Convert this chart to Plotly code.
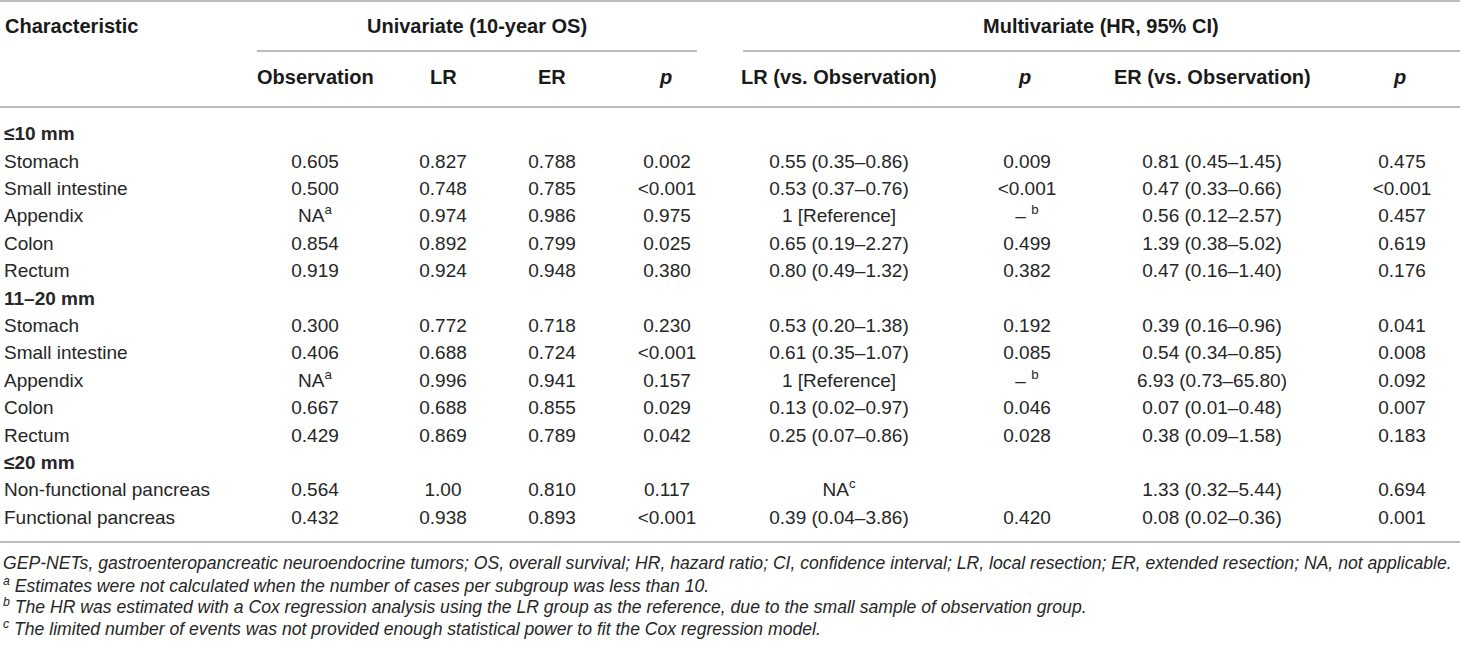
import plotly.graph_objects as go

# table content, row by row (group rows have empty value cells)
characteristic = ["<b>≤10 mm</b>", "Stomach", "Small intestine", "Appendix", "Colon", "Rectum",
                  "<b>11–20 mm</b>", "Stomach", "Small intestine", "Appendix", "Colon", "Rectum",
                  "<b>≤20 mm</b>", "Non-functional pancreas", "Functional pancreas"]
observation = ["", "0.605", "0.500", "NA<sup>a</sup>", "0.854", "0.919",
               "", "0.300", "0.406", "NA<sup>a</sup>", "0.667", "0.429",
               "", "0.564", "0.432"]
lr = ["", "0.827", "0.748", "0.974", "0.892", "0.924",
      "", "0.772", "0.688", "0.996", "0.688", "0.869",
      "", "1.00", "0.938"]
er = ["", "0.788", "0.785", "0.986", "0.799", "0.948",
      "", "0.718", "0.724", "0.941", "0.855", "0.789",
      "", "0.810", "0.893"]
p_uni = ["", "0.002", "<0.001", "0.975", "0.025", "0.380",
         "", "0.230", "<0.001", "0.157", "0.029", "0.042",
         "", "0.117", "<0.001"]
lr_hr = ["", "0.55 (0.35–0.86)", "0.53 (0.37–0.76)", "1 [Reference]", "0.65 (0.19–2.27)", "0.80 (0.49–1.32)",
         "", "0.53 (0.20–1.38)", "0.61 (0.35–1.07)", "1 [Reference]", "0.13 (0.02–0.97)", "0.25 (0.07–0.86)",
         "", "NA<sup>c</sup>", "0.39 (0.04–3.86)"]
p_lr = ["", "0.009", "<0.001", "– <sup>b</sup>", "0.499", "0.382",
        "", "0.192", "0.085", "– <sup>b</sup>", "0.046", "0.028",
        "", "", "0.420"]
er_hr = ["", "0.81 (0.45–1.45)", "0.47 (0.33–0.66)", "0.56 (0.12–2.57)", "1.39 (0.38–5.02)", "0.47 (0.16–1.40)",
         "", "0.39 (0.16–0.96)", "0.54 (0.34–0.85)", "6.93 (0.73–65.80)", "0.07 (0.01–0.48)", "0.38 (0.09–1.58)",
         "", "1.33 (0.32–5.44)", "0.08 (0.02–0.36)"]
p_er = ["", "0.475", "<0.001", "0.457", "0.619", "0.176",
        "", "0.041", "0.008", "0.092", "0.007", "0.183",
        "", "0.694", "0.001"]

col_headers = ["Observation", "LR", "ER", "<i>p</i>",
               "LR (vs. Observation)", "<i>p</i>", "ER (vs. Observation)", "<i>p</i>"]
footnotes = [
    "GEP-NETs, gastroenteropancreatic neuroendocrine tumors; OS, overall survival; HR, hazard ratio; "
    "CI, confidence interval; LR, local resection; ER, extended resection; NA, not applicable.",
    "<sup>a</sup> Estimates were not calculated when the number of cases per subgroup was less than 10.",
    "<sup>b</sup> The HR was estimated with a Cox regression analysis using the LR group as the reference, "
    "due to the small sample of observation group.",
    "<sup>c</sup> The limited number of events was not provided enough statistical power to fit the Cox regression model.",
]

W, H = 1460, 650
FONT = "Liberation Sans"
TXT = "#262626"
RULE = "#a6a6a6"
row0, row_h = 135.5, 27.4        # pixel centre of first body row, row pitch
col_x = [315, 443, 552, 667, 839, 1027, 1212, 1402]
head_x = [315, 443, 552, 665, 839, 1024, 1212, 1399]

rows = list(range(len(characteristic)))
fig = go.Figure()
fig.add_trace(go.Scatter(x=[4] * len(rows), y=rows, text=characteristic, mode="text",
                         textposition="middle right", hoverinfo="skip",
                         textfont=dict(family=FONT, size=19, color=TXT)))
for cx, vals in zip(col_x, [observation, lr, er, p_uni, lr_hr, p_lr, er_hr, p_er]):
    fig.add_trace(go.Scatter(x=[cx] * len(rows), y=rows, text=vals, mode="text",
                             textposition="middle center", hoverinfo="skip",
                             textfont=dict(family=FONT, size=19, color=TXT)))

ann = []
hfont = dict(family=FONT, size=20, color="#1a1a1a")


def px_ann(x, y, text, xanchor="center", font=hfont):
    ann.append(dict(x=x / W, y=1 - y / H, xref="paper", yref="paper", text=text,
                    showarrow=False, xanchor=xanchor, yanchor="middle", font=font))


px_ann(3, 26, "<b>Characteristic</b>", "left")
px_ann(477, 26, "<b>Univariate (10-year OS)</b>")
px_ann(1101, 26, "<b>Multivariate (HR, 95% CI)</b>")
for hx, h in zip(head_x, col_headers):
    px_ann(hx, 77, "<b>" + h + "</b>")

ffont = dict(family=FONT, size=17.6, color="#262626")
for i, f in enumerate(footnotes):
    px_ann(1, 563 + 21.7 * i, "<i>" + f + "</i>", "left", ffont)

shapes = []


def rule(x0, x1, y):
    shapes.append(dict(type="line", xref="paper", yref="paper", x0=x0 / W, x1=x1 / W,
                       y0=1 - y / H, y1=1 - y / H, line=dict(color=RULE, width=1.6)))


rule(0, W, 1)
rule(257, 697, 51)
rule(743, W, 51)
rule(0, W, 107)
rule(0, W, 542)

fig.update_layout(
    width=W, height=H,
    margin=dict(l=0, r=0, t=0, b=0),
    paper_bgcolor="white", plot_bgcolor="white",
    showlegend=False,
    xaxis=dict(range=[0, W], visible=False, fixedrange=True),
    yaxis=dict(range=[(H - row0) / row_h, -row0 / row_h], visible=False, fixedrange=True),
    annotations=ann,
    shapes=shapes,
)

fig.write_html("out.html", post_script="document.body.style.margin='0';",
               config={"displayModeBar": False})
